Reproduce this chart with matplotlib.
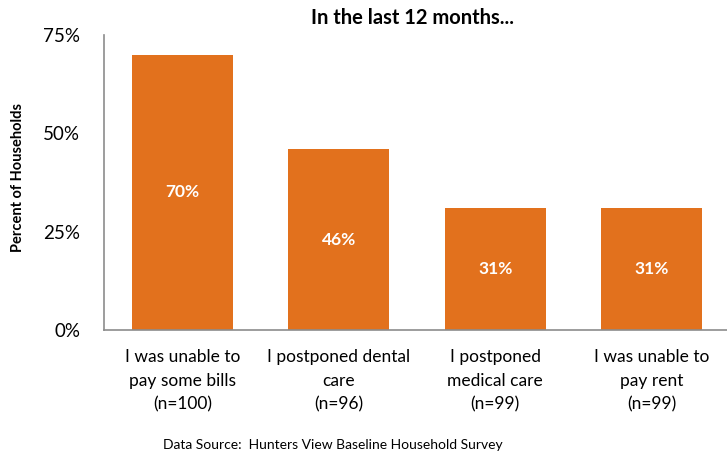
import matplotlib
matplotlib.use("Agg")
import matplotlib.pyplot as plt

categories = ["I was unable to\npay some bills\n(n=100)",
              "I postponed dental\ncare\n(n=96)",
              "I postponed\nmedical care\n(n=99)",
              "I was unable to\npay rent\n(n=99)"]
values = [70, 46, 31, 31]
yticks = [0, 25, 50, 75]
ytick_labels = ["0%", "25%", "50%", "75%"]

plt.rcParams['font.family'] = ['Lato', 'DejaVu Sans']
fig = plt.figure(figsize=(7.27, 4.59), dpi=100)
ax = fig.add_axes([104/727, 1-330/459, 626/727, 295/459])
x = list(range(len(values)))
bars = ax.bar(x, values, width=0.645, color="#E2711D")
for xi, v in zip(x, values):
    ax.text(xi, v/2, f"{v}%", ha="center", va="center", color="white",
            fontsize=12.5, fontweight="bold")
ax.set_xlim(-0.5, 3.5)
ax.set_ylim(0, 75)
ax.set_yticks(yticks)
ax.set_yticklabels(ytick_labels, fontsize=13.5)
ax.set_xticks(x)
ax.set_xticklabels(categories, fontsize=12.5, linespacing=1.55)
ax.tick_params(axis='x', length=0, pad=14)
ax.tick_params(axis='y', length=0, pad=17)
for s in ["top", "right"]:
    ax.spines[s].set_visible(False)
for s in ["left", "bottom"]:
    ax.spines[s].set_color("#8c8c8c")
    ax.spines[s].set_linewidth(1.2)
fig.text(412/727, 1-18/459, "In the last 12 months...", ha="center", va="center",
         fontsize=14.5, fontweight="bold")
fig.text(18/727, 1-178/459, "Percent of Households", ha="center", va="center",
         rotation=90, fontsize=10.5, fontweight="bold")
fig.text(333/727, 1-445/459, "Data Source:  Hunters View Baseline Household Survey",
         ha="center", va="center", fontsize=10)
fig.savefig("out.png", dpi=100)
